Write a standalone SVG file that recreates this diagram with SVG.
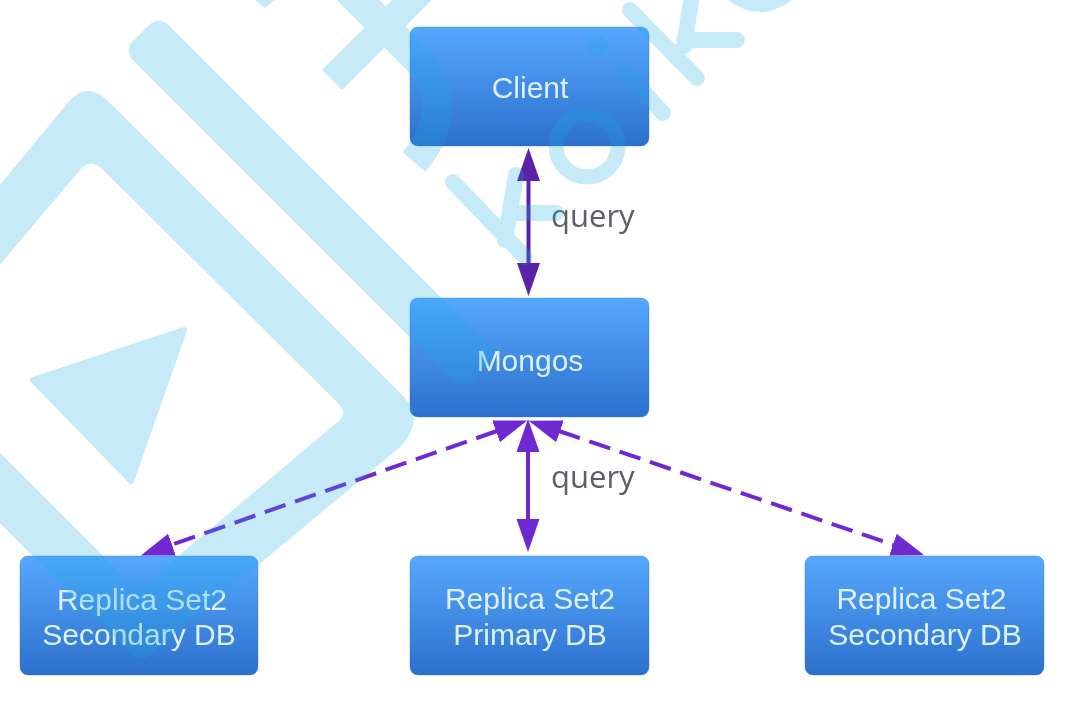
<svg xmlns="http://www.w3.org/2000/svg" width="1082" height="710" viewBox="0 0 1082 710">
<style>
.box{fill:url(#bg);stroke:#2a6cc0;stroke-opacity:.35;stroke-width:1}
.t{font-family:"Liberation Sans",Arial,sans-serif;font-size:30px;fill:#dcf1fb;text-anchor:middle;filter:url(#soft)}
.q{font-family:"Open Sans","Noto Sans","Liberation Sans",sans-serif;font-size:31px;fill:#5a5f68;filter:url(#soft)}
.c1{stroke:#5a22a8;stroke-width:4;fill:none}
.c2{stroke:#7028d0;stroke-width:4;fill:none}
.dash{stroke-dasharray:22 10}
.wf{fill:#1fabe3}
.ws{fill:none;stroke:#1fabe3;stroke-width:16;stroke-linecap:round;stroke-linejoin:round}
.wb{fill:none;stroke:#1fabe3}
</style>
<defs>
<linearGradient id="bg" x1="0" y1="0" x2="0" y2="1"><stop offset="0" stop-color="#57a8ff"/><stop offset="1" stop-color="#2c70cc"/></linearGradient>
<filter id="soft" x="-5%" y="-20%" width="110%" height="140%"><feGaussianBlur stdDeviation="0.45"/></filter>
<marker id="h1" markerUnits="userSpaceOnUse" markerWidth="36" markerHeight="26" refX="1" refY="12" orient="auto-start-reverse"><path d="M0,0.5L33,12L0,23.5Z" fill="#5a22a8"/></marker>
<marker id="h2" markerUnits="userSpaceOnUse" markerWidth="36" markerHeight="26" refX="1" refY="12" orient="auto-start-reverse"><path d="M0,0.5L33,12L0,23.5Z" fill="#7028d0"/></marker>
</defs>
<rect width="1082" height="710" fill="#fff"/>
<g id="connectors">
<path class="c1" d="M528.5,180V264" marker-start="url(#h1)" marker-end="url(#h1)"/>
<path class="c2" d="M528,451V520" marker-start="url(#h2)" marker-end="url(#h2)"/>
<path class="c2 dash" d="M497,431L171,545" marker-start="url(#h2)" marker-end="url(#h2)"/>
<path class="c2 dash" d="M559,431L894,545" marker-start="url(#h2)" marker-end="url(#h2)"/>
<text class="q" x="551" y="227">query</text>
<text class="q" x="551" y="488">query</text>
</g>
<g id="client"><rect class="box" x="410" y="27" width="239" height="119" rx="8"/><text class="t" x="530" y="98">Client</text></g>
<g id="mongos"><rect class="box" x="410" y="298" width="239" height="119" rx="8"/><text class="t" x="530" y="371">Mongos</text></g>
<g id="secondary-left"><rect class="box" x="20" y="556" width="238" height="119" rx="8"/><text class="t"><tspan x="142" y="610">Replica Set2</tspan><tspan x="139" y="645">Secondary DB</tspan></text></g>
<g id="primary"><rect class="box" x="410" y="556" width="239" height="119" rx="8"/><text class="t"><tspan x="530" y="609">Replica Set2</tspan><tspan x="530" y="645">Primary DB</tspan></text></g>
<g id="secondary-right"><rect class="box" x="805" y="556" width="239" height="119" rx="8"/><text class="t"><tspan x="921.5" y="609">Replica Set2</tspan><tspan x="925" y="645">Secondary DB</tspan></text></g>
<g id="watermark" opacity=".25">
<path class="wf" fill-rule="evenodd" d="M-100,306L70,100Q88,82 107,100L405,398Q425,420 400,447L150,655Q142,662 133,656L-100,423ZM-40,312L80,170Q90,158 101,168L340,405Q347,413 340,420L165,567Q145,590 130,583L-40,413Z"/>
<path class="wf" stroke="#1fabe3" stroke-width="6" stroke-linejoin="round" d="M184,330L33,380L131,481Z"/>
<rect class="wf" x="0" y="-25" width="480" height="50" rx="13" transform="translate(141,33) rotate(45)"/>
<path class="wf" d="M255,0L265,8L275,0Z"/>
<path class="wb" stroke-width="28" d="M332,80L445,-33"/>
<path class="wb" stroke-width="30" d="M340,-18L415,57Q437,80 437,105Q437,135 414,162"/>
<circle cx="587" cy="146" r="31" class="wb" stroke-width="15"/>
<path class="ws" d="M623,70L663,113"/><circle cx="598" cy="46" r="10" class="wf"/>
<path class="ws" d="M630,10L697,78M692,-5L684,46M684,40H737"/>
<path class="ws" d="M453,182L525,257M516,175L505,240M510,213H556"/>
<path class="wf" d="M728,0Q760,24 792,0Z"/>
</g>
</svg>
